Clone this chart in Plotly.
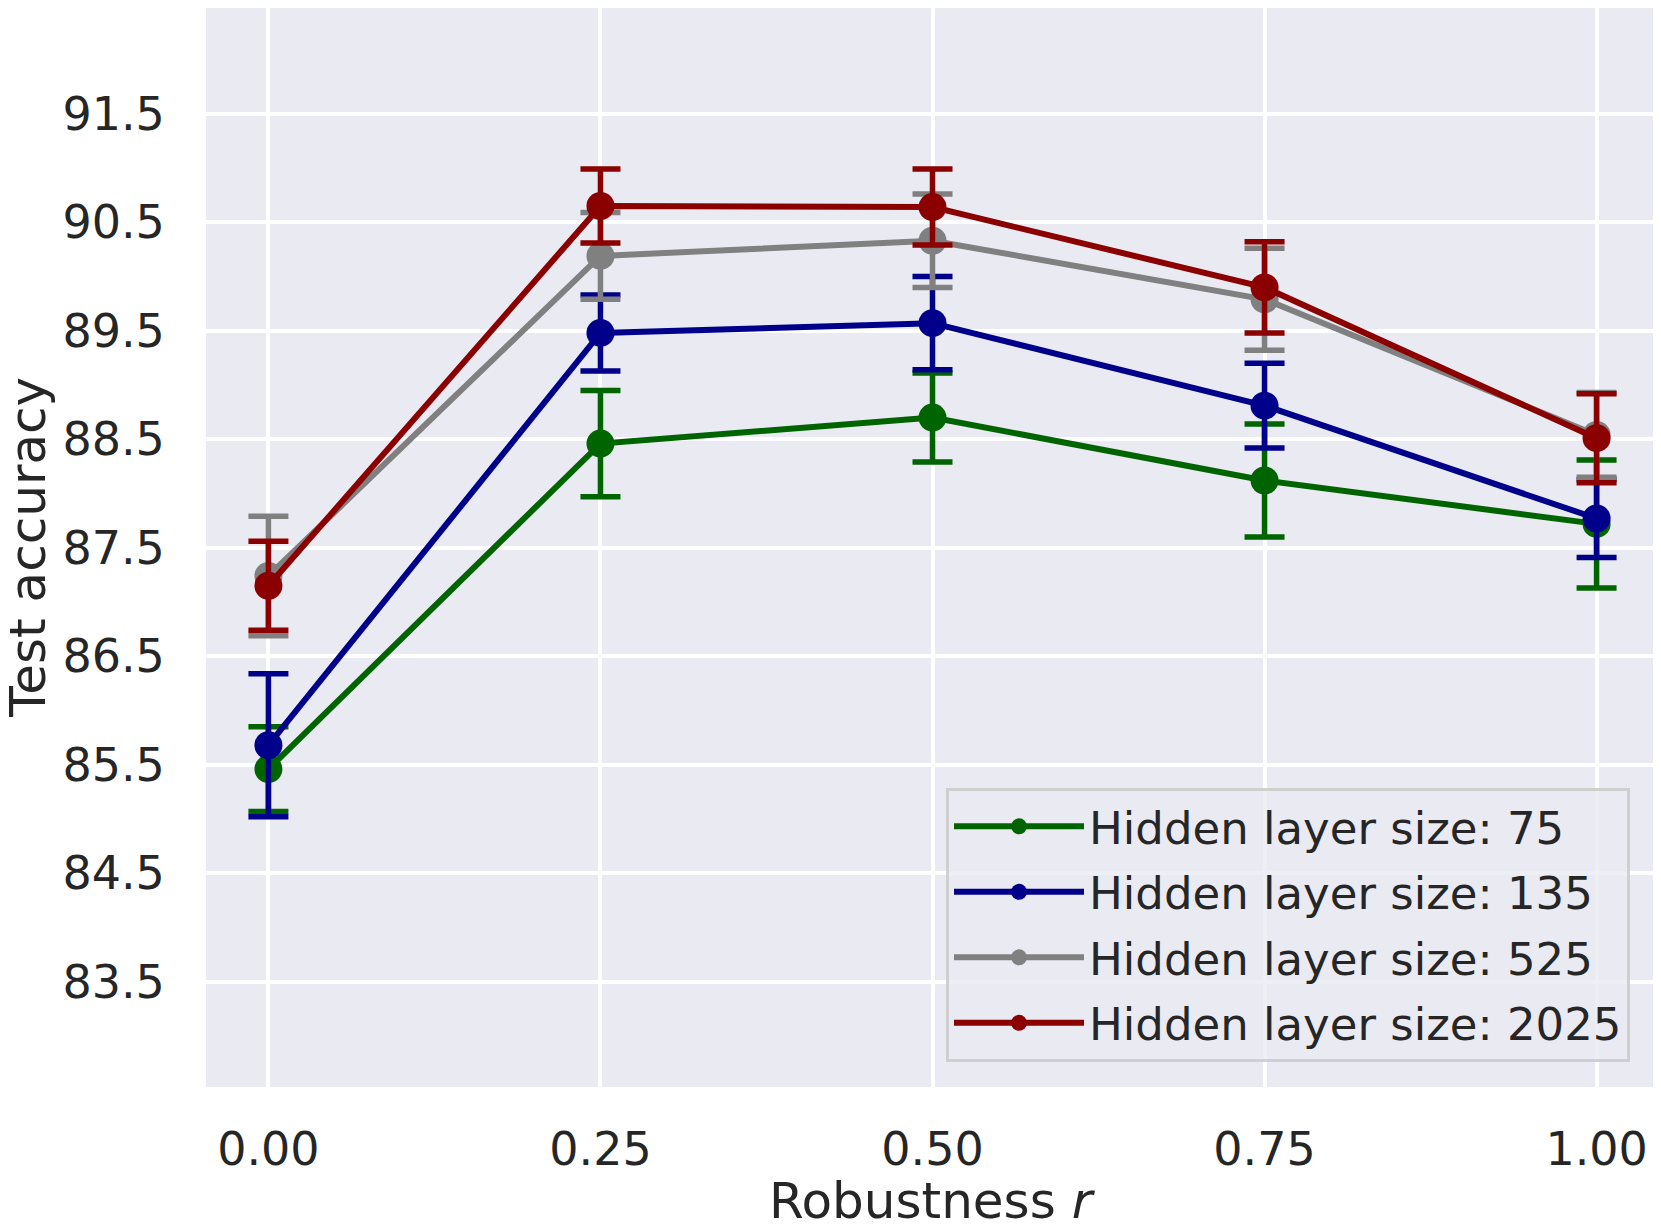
import plotly.graph_objects as go

robustness = [0.0, 0.25, 0.5, 0.75, 1.0]
x_tick_labels = ["0.00", "0.25", "0.50", "0.75", "1.00"]
y_tick_values = [83.5, 84.5, 85.5, 86.5, 87.5, 88.5, 89.5, 90.5, 91.5]

acc_75 = [85.46, 88.46, 88.70, 88.12, 87.72]
err_75 = [0.39, 0.49, 0.41, 0.52, 0.59]
acc_135 = [85.68, 89.48, 89.57, 88.81, 87.77]
err_135 = [0.66, 0.35, 0.43, 0.39, 0.36]
acc_525 = [87.24, 90.19, 90.33, 89.79, 88.54]
err_525 = [0.55, 0.40, 0.43, 0.47, 0.39]
acc_2025 = [87.15, 90.65, 90.64, 89.90, 88.51]
err_2025 = [0.41, 0.34, 0.35, 0.42, 0.41]

series = [
    ("Hidden layer size: 75", acc_75, err_75, "#006400"),
    ("Hidden layer size: 135", acc_135, err_135, "#00008B"),
    ("Hidden layer size: 525", acc_525, err_525, "#808080"),
    ("Hidden layer size: 2025", acc_2025, err_2025, "#8B0000"),
]

x_title = "Robustness <i>r</i>"
y_title = "Test accuracy"

TEXT = "#262626"
FONT = "DejaVu Sans"

fig = go.Figure()
for name, acc, err, color in series:
    fig.add_trace(go.Scatter(
        x=robustness, y=acc, name=name, legendgroup=name,
        mode="lines+markers",
        line=dict(color=color, width=6),
        marker=dict(color=color, size=28),
        error_y=dict(type="data", array=err, visible=True,
                     color=color, thickness=5.5, width=20),
    ))

fig.update_layout(
    width=1653, height=1216,
    margin=dict(l=198, r=2, t=0, b=137, autoexpand=False),
    paper_bgcolor="white",
    plot_bgcolor="#EAEAF2",
    font=dict(family=FONT, color=TEXT, size=46),
    showlegend=True,
    legend=dict(
        x=0.5093, y=0.2775, xanchor="left", yanchor="top",
        bgcolor="rgba(234,234,242,0.8)",
        bordercolor="rgba(204,204,204,0.9)", borderwidth=3,
        font=dict(family=FONT, size=45, color=TEXT),
        itemwidth=130, tracegroupgap=4,
    ),
    annotations=[
        dict(text=x_title, xref="paper", yref="paper", x=0.5, y=-0.1054,
             xanchor="center", yanchor="middle", showarrow=False,
             font=dict(family=FONT, size=50, color=TEXT)),
        dict(text=y_title, xref="paper", yref="paper", x=-0.1230, y=0.5,
             xanchor="center", yanchor="middle", showarrow=False, textangle=-90,
             font=dict(family=FONT, size=50, color=TEXT)),
    ],
)
fig.update_xaxes(
    range=[-0.047, 1.047], automargin=False,
    tickvals=robustness, ticktext=x_tick_labels,
    showgrid=True, gridcolor="white", gridwidth=4,
    zeroline=False, showline=False,
    ticks="outside", ticklen=22, tickcolor="rgba(0,0,0,0)",
    tickfont=dict(family=FONT, size=46, color=TEXT),
)
fig.update_yaxes(
    range=[82.53, 92.475], automargin=False,
    tickvals=y_tick_values, ticktext=[f"{v:.1f}" for v in y_tick_values],
    showgrid=True, gridcolor="white", gridwidth=4,
    zeroline=False, showline=False,
    ticks="outside", ticklen=31, tickcolor="rgba(0,0,0,0)",
    tickfont=dict(family=FONT, size=46, color=TEXT),
)

fig.write_html("out.html")
